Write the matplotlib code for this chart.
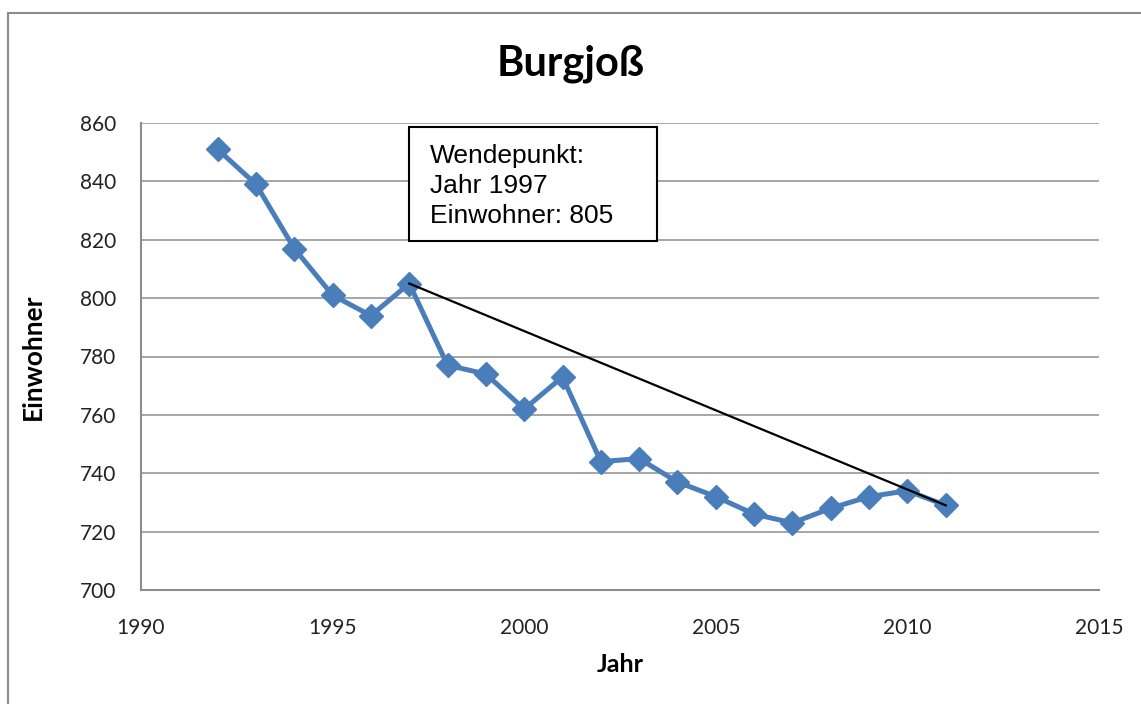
import matplotlib
matplotlib.use("Agg")
import matplotlib.pyplot as plt
from matplotlib.patches import Rectangle

# ── Data ─────────────────────────────────────────────────────────────────────
years = [1992, 1993, 1994, 1995, 1996, 1997, 1998, 1999, 2000, 2001,
         2002, 2003, 2004, 2005, 2006, 2007, 2008, 2009, 2010, 2011]
einwohner = [851, 839, 817, 801, 794, 805, 777, 774, 762, 773,
             744, 745, 737, 732, 726, 723, 728, 732, 734, 729]

# trend line from the turning point to the last year
trend_years = [1997, 2011]
trend_values = [805, 729]

x_ticks = [1990, 1995, 2000, 2005, 2010, 2015]
y_ticks = [700, 720, 740, 760, 780, 800, 820, 840, 860]

BLUE = "#4a7ebb"
GRID = "#a6a6a6"
FONT = "Lato"

fig = plt.figure(figsize=(11.41, 7.04), dpi=100)
fig.patch.set_facecolor("white")

# outer chart frame (cut off at right/bottom like the screenshot)
fig.patches.append(Rectangle((8 / 1141, -0.1), 1.2, 0.1 + 1 - 13 / 704,
                             transform=fig.transFigure, fill=False,
                             edgecolor="#8c8c8c", linewidth=1.5))

ax = fig.add_axes([141 / 1141, 1 - 590 / 704, (1099 - 141) / 1141,
                   (590 - 123) / 704])

ax.plot(years, einwohner, color=BLUE, linewidth=3.6, marker="D",
        markersize=12, markerfacecolor=BLUE, markeredgecolor=BLUE, zorder=3)
ax.plot(trend_years, trend_values, color="black", linewidth=1.6, zorder=4)

ax.set_xlim(1990, 2015)
ax.set_ylim(700, 860)
ax.set_xticks(x_ticks)
ax.set_yticks(y_ticks)
ax.tick_params(length=0, labelsize=15, colors="#222222")
ax.tick_params(axis="x", pad=20)
ax.tick_params(axis="y", pad=18)
for lab in ax.get_xticklabels() + ax.get_yticklabels():
    lab.set_fontfamily(FONT)

ax.yaxis.grid(True, color=GRID, linewidth=1.4)
ax.set_axisbelow(True)
for side in ["top", "right"]:
    ax.spines[side].set_visible(False)
for side in ["left", "bottom"]:
    ax.spines[side].set_color("#8c8c8c")
    ax.spines[side].set_linewidth(1.5)

ax.set_xlabel("Jahr", fontsize=18, fontweight="bold", family=FONT)
ax.set_ylabel("Einwohner", fontsize=19, fontweight="bold", family=FONT)
ax.xaxis.set_label_coords(0.5, -(664 - 590) / 467)
ax.yaxis.set_label_coords(-(141 - 33) / 958, 0.5)
ax.xaxis.label.set_va("center")
ax.yaxis.label.set_va("center")

fig.text(0.5, 1 - 64 / 704, "Burgjoß", ha="center", va="center",
         fontsize=30, fontweight="bold", family=FONT)

# annotation box
ax.add_patch(Rectangle((1997.0, 819.7), 6.47, 38.9, facecolor="white",
                       edgecolor="black", linewidth=1.5, zorder=5))
ax.text(1997.55, 838.4, "Wendepunkt:\nJahr 1997\nEinwohner: 805",
        family="Liberation Sans", fontsize=19, va="center", ha="left",
        linespacing=1.32, zorder=6)

fig.savefig("out.png", dpi=100)
